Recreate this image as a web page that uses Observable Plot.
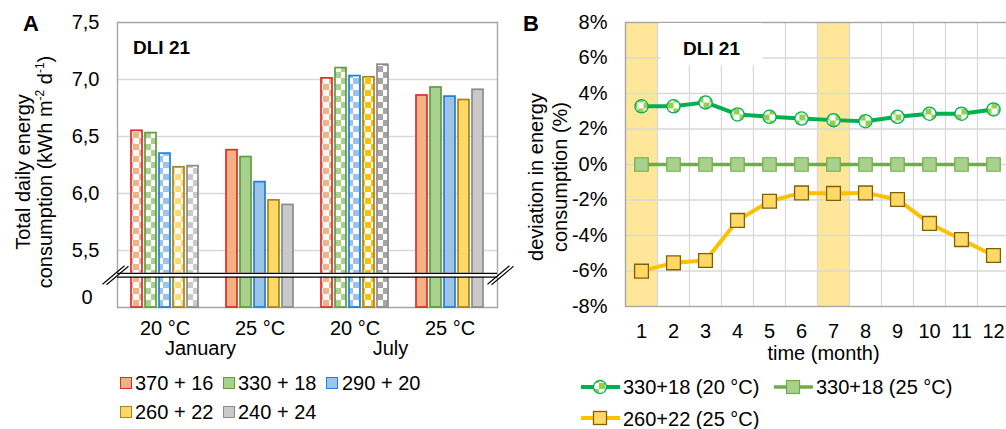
<!DOCTYPE html>
<html><head><meta charset="utf-8">
<script src="https://cdn.jsdelivr.net/npm/d3@7"></script>
<script src="https://cdn.jsdelivr.net/npm/@observablehq/plot@0.6"></script>
<style>
body{margin:0;background:#fff;overflow:hidden;font-family:"Liberation Sans",Arial,sans-serif;color:#000}
#wrap{position:relative;width:1006px;height:429px;overflow:hidden;background:#fff}
#wrap svg.plot{position:absolute;top:0}
.abs{position:absolute;white-space:nowrap}
.t20{font-size:20px;line-height:20px}
.sw{position:absolute;width:12px;height:12px;box-sizing:border-box;border:1.5px solid}
.ylab{position:absolute;font-size:20px;text-align:center;white-space:nowrap;transform:translate(-50%,-50%) rotate(-90deg)}
.ylab sup{font-size:12px;line-height:0;vertical-align:8px}
</style></head><body><div id="wrap"></div>
<script>
// ---------- data: panel A ----------
const groups = ["Jan-20", "Jan-25", "Jul-20", "Jul-25"];
const groupTemps = ["20 °C", "25 °C", "20 °C", "25 °C"];
const monthLabels = ["January", "July"];
const monthLabelGroups = ["Jan-25", "Jul-25"];
const series = ["370 + 16", "330 + 18", "290 + 20", "260 + 22", "240 + 24"];
const jan20 = [6.55, 6.53, 6.35, 6.23, 6.24];
const jan25 = [6.38, 6.32, 6.10, 5.94, 5.90];
const jul20 = [7.01, 7.10, 7.03, 7.02, 7.13];
const jul25 = [6.86, 6.93, 6.85, 6.82, 6.91];
const yTicksA = [5.5, 6.0, 6.5, 7.0, 7.5];
const yZeroA = [0];

// ---------- data: panel B ----------
const months = [1, 2, 3, 4, 5, 6, 7, 8, 9, 10, 11, 12];
const dev330_20 = [3.28, 3.28, 3.50, 2.82, 2.69, 2.59, 2.50, 2.44, 2.69, 2.86, 2.86, 3.10];
const dev330_25 = [0, 0, 0, 0, 0, 0, 0, 0, 0, 0, 0, 0];
const dev260_25 = [-6.01, -5.54, -5.41, -3.15, -2.07, -1.60, -1.63, -1.60, -1.97, -3.32, -4.23, -5.13];
const highlightMonths = [1, 7];
const yTicksB = [-8, -6, -4, -2, 0, 2, 4, 6, 8];
const lineSeries = ["330+18 (20 °C)", "330+18 (25 °C)", "260+22 (25 °C)"];

// ---------- styles ----------
const fillsSolid = ["#F4B183", "#A9D18E", "#9DC3E6", "#FFD966", "#C9C9C9"];
const fillsJul = ["#F4B183", "#A9D18E", "#9DC3E6", "#FFC000", "#A5A5A5"];
const strokes = ["#E02B2B", "#5E9E3C", "#1F7FD6", "#A8841A", "#8C8C8C"];
const FONT = "Liberation Sans, Arial, sans-serif";
const gridColor = "#D9D9D9";
const frameColor = "#A6A6A6";

const wrap = document.getElementById("wrap");
const NS = "http://www.w3.org/2000/svg";
function addDefs(svg, html) {
  const defs = document.createElementNS(NS, "defs");
  defs.innerHTML = html;
  svg.insertBefore(defs, svg.firstChild);
}

// ---------- panel A ----------
const valuesByGroup = [jan20, jan25, jul20, jul25];
const barData = groups.flatMap((g, gi) => series.map((s, si) => ({
  group: g, series: s, si, value: valuesByGroup[gi][si], checker: gi % 2 === 0, july: gi >= 2
})));

const slashSymbol = {
  draw(ctx) {
    ctx.moveTo(-13, 9); ctx.lineTo(9, -9.5);
    ctx.moveTo(-9, 9.5); ctx.lineTo(13, -9);
  }
};

// broken axis: values below the break are compressed into a short segment
const breakTop = 5.3, breakLow = 4.7, axisFloor = 5.0;
const brokenY = v => v >= breakTop ? v : axisFloor + (v / breakTop) * (breakTop - axisFloor);

const plotA = Plot.plot({
  width: 505, height: 429,
  marginLeft: 116, marginRight: 8, marginTop: 22, marginBottom: 122,
  style: {fontFamily: FONT, fontSize: "20px", color: "#000", background: "transparent", overflow: "visible"},
  fx: {domain: groups, padding: 0},
  x: {domain: series, paddingInner: 0.2, paddingOuter: 0.86, axis: null},
  y: {domain: [axisFloor, 7.5], transform: brokenY, axis: null},
  color: {type: "identity"},
  marks: [
    Plot.gridY(yTicksA.slice(0, 4), {stroke: gridColor, strokeOpacity: 1, strokeWidth: 1.3}),
    Plot.ruleY([7.5, 0], {stroke: frameColor, strokeWidth: 1.4}),
    Plot.frame({anchor: "left", facetAnchor: "left", stroke: frameColor, strokeWidth: 1.4}),
    Plot.frame({anchor: "right", facetAnchor: "right", stroke: frameColor, strokeWidth: 1.4}),
    Plot.barY(barData, {
      fx: "group", x: "series", y: "value",
      fill: d => d.checker ? `url(#chk-${d.july ? "jul" : "jan"}-${d.si})` : fillsSolid[d.si],
      stroke: d => strokes[d.si], strokeWidth: 1.7
    }),
    Plot.rect([0], {y1: breakLow, y2: breakTop, fill: "#fff"}),
    Plot.ruleY([breakLow, breakTop], {stroke: "#000", strokeWidth: 1.3}),
    Plot.dot([groups[0]], {fx: d => d, y: 5.0, frameAnchor: "left", dx: -2, r: 5, symbol: slashSymbol, stroke: "#000", strokeWidth: 1.1, fill: "none"}),
    Plot.dot([groups[3]], {fx: d => d, y: 5.0, frameAnchor: "right", dx: 3, r: 5, symbol: slashSymbol, stroke: "#000", strokeWidth: 1.1, fill: "none"}),
    Plot.axisY(yTicksA, {tickSize: 0, tickPadding: 18, fontSize: 20, fill: "#000", tickFormat: d => d.toFixed(1).replace(".", ","), label: null}),
    Plot.axisY(yZeroA, {tickSize: 0, tickPadding: 25, dy: -10, fontSize: 20, fill: "#000", tickFormat: d => String(d), label: null}),
    Plot.axisFx({anchor: "bottom", tickSize: 0, tickPadding: 13, fontSize: 20, fill: "#000", tickFormat: d => groupTemps[groups.indexOf(d)], label: null}),
    Plot.text(monthLabels, {fx: (d, i) => monthLabelGroups[i], text: d => d, frameAnchor: "bottom-left", textAnchor: "middle", dx: -12, dy: 47, fontSize: 20, fill: "#000"})
  ]
});
plotA.classList.add("plot");
plotA.style.left = "0px";
let defsA = "";
[["jan", fillsSolid], ["jul", fillsJul]].forEach(([k, arr]) => arr.forEach((c, i) => {
  defsA += `<pattern id="chk-${k}-${i}" width="12" height="12" patternUnits="userSpaceOnUse"><rect width="12" height="12" fill="#fff"/><rect x="0" y="0" width="6" height="6" fill="${c}"/><rect x="6" y="6" width="6" height="6" fill="${c}"/></pattern>`;
}));
addDefs(plotA, defsA);
wrap.appendChild(plotA);

// ---------- panel B ----------
const toRows = (vals, s) => months.map((m, i) => ({m, v: vals[i], s}));
const rows20 = toRows(dev330_20, lineSeries[0]);
const rows25 = toRows(dev330_25, lineSeries[1]);
const rows260 = toRows(dev260_25, lineSeries[2]);

const plotB = Plot.plot({
  width: 504, height: 429,
  marginLeft: 120, marginRight: 0, marginTop: 22, marginBottom: 123,
  style: {fontFamily: FONT, fontSize: "20px", color: "#000", background: "transparent", overflow: "visible"},
  x: {domain: [0.5, 12.5], axis: null},
  y: {domain: [-8, 8], axis: null},
  color: {type: "identity"},
  marks: [
    Plot.rect(highlightMonths, {x1: d => d - 0.5, x2: d => d + 0.5, y1: -8, y2: 8, fill: "#FFE699"}),
    Plot.gridY(yTicksB.slice(1, -1), {stroke: gridColor, strokeOpacity: 1, strokeWidth: 1.3}),
    Plot.gridX(months.slice(0, -1).map(m => m + 0.5), {stroke: gridColor, strokeOpacity: 1, strokeWidth: 1.3}),
    Plot.frame({stroke: frameColor, strokeWidth: 1.4}),
    Plot.line(rows25, {x: "m", y: "v", stroke: "#70AD47", strokeWidth: 3.5}),
    Plot.dot(rows25, {x: "m", y: "v", symbol: "square", r: 7.6, fill: "#A9D18E", stroke: "#70AD47", strokeWidth: 1.2}),
    Plot.line(rows20, {x: "m", y: "v", stroke: "#00B050", strokeWidth: 4}),
    Plot.dot(rows20, {x: "m", y: "v", symbol: "circle", r: 6.6, fill: "url(#chkB)", stroke: "#00B050", strokeWidth: 1.3}),
    Plot.line(rows260, {x: "m", y: "v", stroke: "#FFC000", strokeWidth: 4}),
    Plot.dot(rows260, {x: "m", y: "v", symbol: "square", r: 7.8, fill: "#FFD966", stroke: "#7F6000", strokeWidth: 1.3}),
    Plot.axisY(yTicksB, {tickSize: 0, tickPadding: 18, fontSize: 20, fill: "#000", tickFormat: d => d + "%", label: null}),
    Plot.axisX(months, {tickSize: 0, tickPadding: 17, fontSize: 20, fill: "#000", tickFormat: d => String(d), label: null}),
    Plot.text(["time (month)"], {frameAnchor: "bottom", dx: 6, dy: 53, fontSize: 20, fill: "#000"})
  ]
});
plotB.classList.add("plot");
plotB.style.left = "505px";
addDefs(plotB, `<pattern id="chkB" width="12" height="12" patternUnits="userSpaceOnUse"><rect width="12" height="12" fill="#fff"/><rect x="0" y="0" width="6" height="6" fill="#92D050"/><rect x="6" y="6" width="6" height="6" fill="#92D050"/></pattern>`);
wrap.appendChild(plotB);

// ---------- text overlays & legends ----------
function add(html) { wrap.insertAdjacentHTML("beforeend", html); }
add(`<div class="abs" style="left:23px;top:12.7px;font-size:22px;line-height:22px;font-weight:bold">A</div>`);
add(`<div class="abs" style="left:523px;top:12.9px;font-size:22px;line-height:22px;font-weight:bold">B</div>`);
add(`<div class="abs" style="left:133px;top:37.7px;font-size:19px;line-height:19px;font-weight:bold">DLI 21</div>`);
add(`<div class="abs" style="left:660px;top:23px;width:103px;height:42px;background:#fff;"><div style="position:absolute;left:0;width:103px;top:15.7px;text-align:center;font-size:19px;line-height:19px;font-weight:bold">DLI 21</div></div>`);
add(`<div class="ylab" style="left:34px;top:172px;line-height:22px">Total daily energy<br>consumption (kWh m<sup>-2</sup> d<sup>-1</sup>)</div>`);
add(`<div class="ylab" style="left:548px;top:177px;line-height:24px">deviation in energy<br>consumption (%)</div>`);

// legend A
const legA = [[120, 135, 383], [223, 238, 383], [326, 342, 383], [120, 135, 412], [223, 238, 412]];
series.forEach((s, i) => {
  const [sx, tx, cy] = legA[i];
  add(`<div class="sw" style="left:${sx}px;top:${cy - 6}px;background:${fillsSolid[i]};border-color:${strokes[i]}"></div>`);
  add(`<div class="abs t20" style="left:${tx}px;top:${cy - 9.8}px">${s}</div>`);
});

// legend B
const legB = [
  {x: 581, tx: 623, cy: 386.7, line: "#00B050", lw: 4, marker: `<circle cx="19" cy="10" r="6.5" fill="url(#chkB)" stroke="#00B050" stroke-width="1.3"/>`},
  {x: 774, tx: 816, cy: 386.7, line: "#70AD47", lw: 3.5, marker: `<rect x="12.5" y="3.5" width="13" height="13" fill="#A9D18E" stroke="#70AD47" stroke-width="1.2"/>`},
  {x: 581, tx: 623, cy: 418.3, line: "#FFC000", lw: 4, marker: `<rect x="12.5" y="3.5" width="13" height="13" fill="#FFD966" stroke="#7F6000" stroke-width="1.3"/>`}
];
lineSeries.forEach((s, i) => {
  const L = legB[i];
  add(`<svg class="abs" width="40" height="20" style="left:${L.x}px;top:${L.cy - 10}px;overflow:visible"><line x1="0" y1="10" x2="39" y2="10" stroke="${L.line}" stroke-width="${L.lw}"/>${L.marker}</svg>`);
  add(`<div class="abs t20" style="left:${L.tx}px;top:${L.cy - 9.8}px">${s}</div>`);
});
</script></body></html>
